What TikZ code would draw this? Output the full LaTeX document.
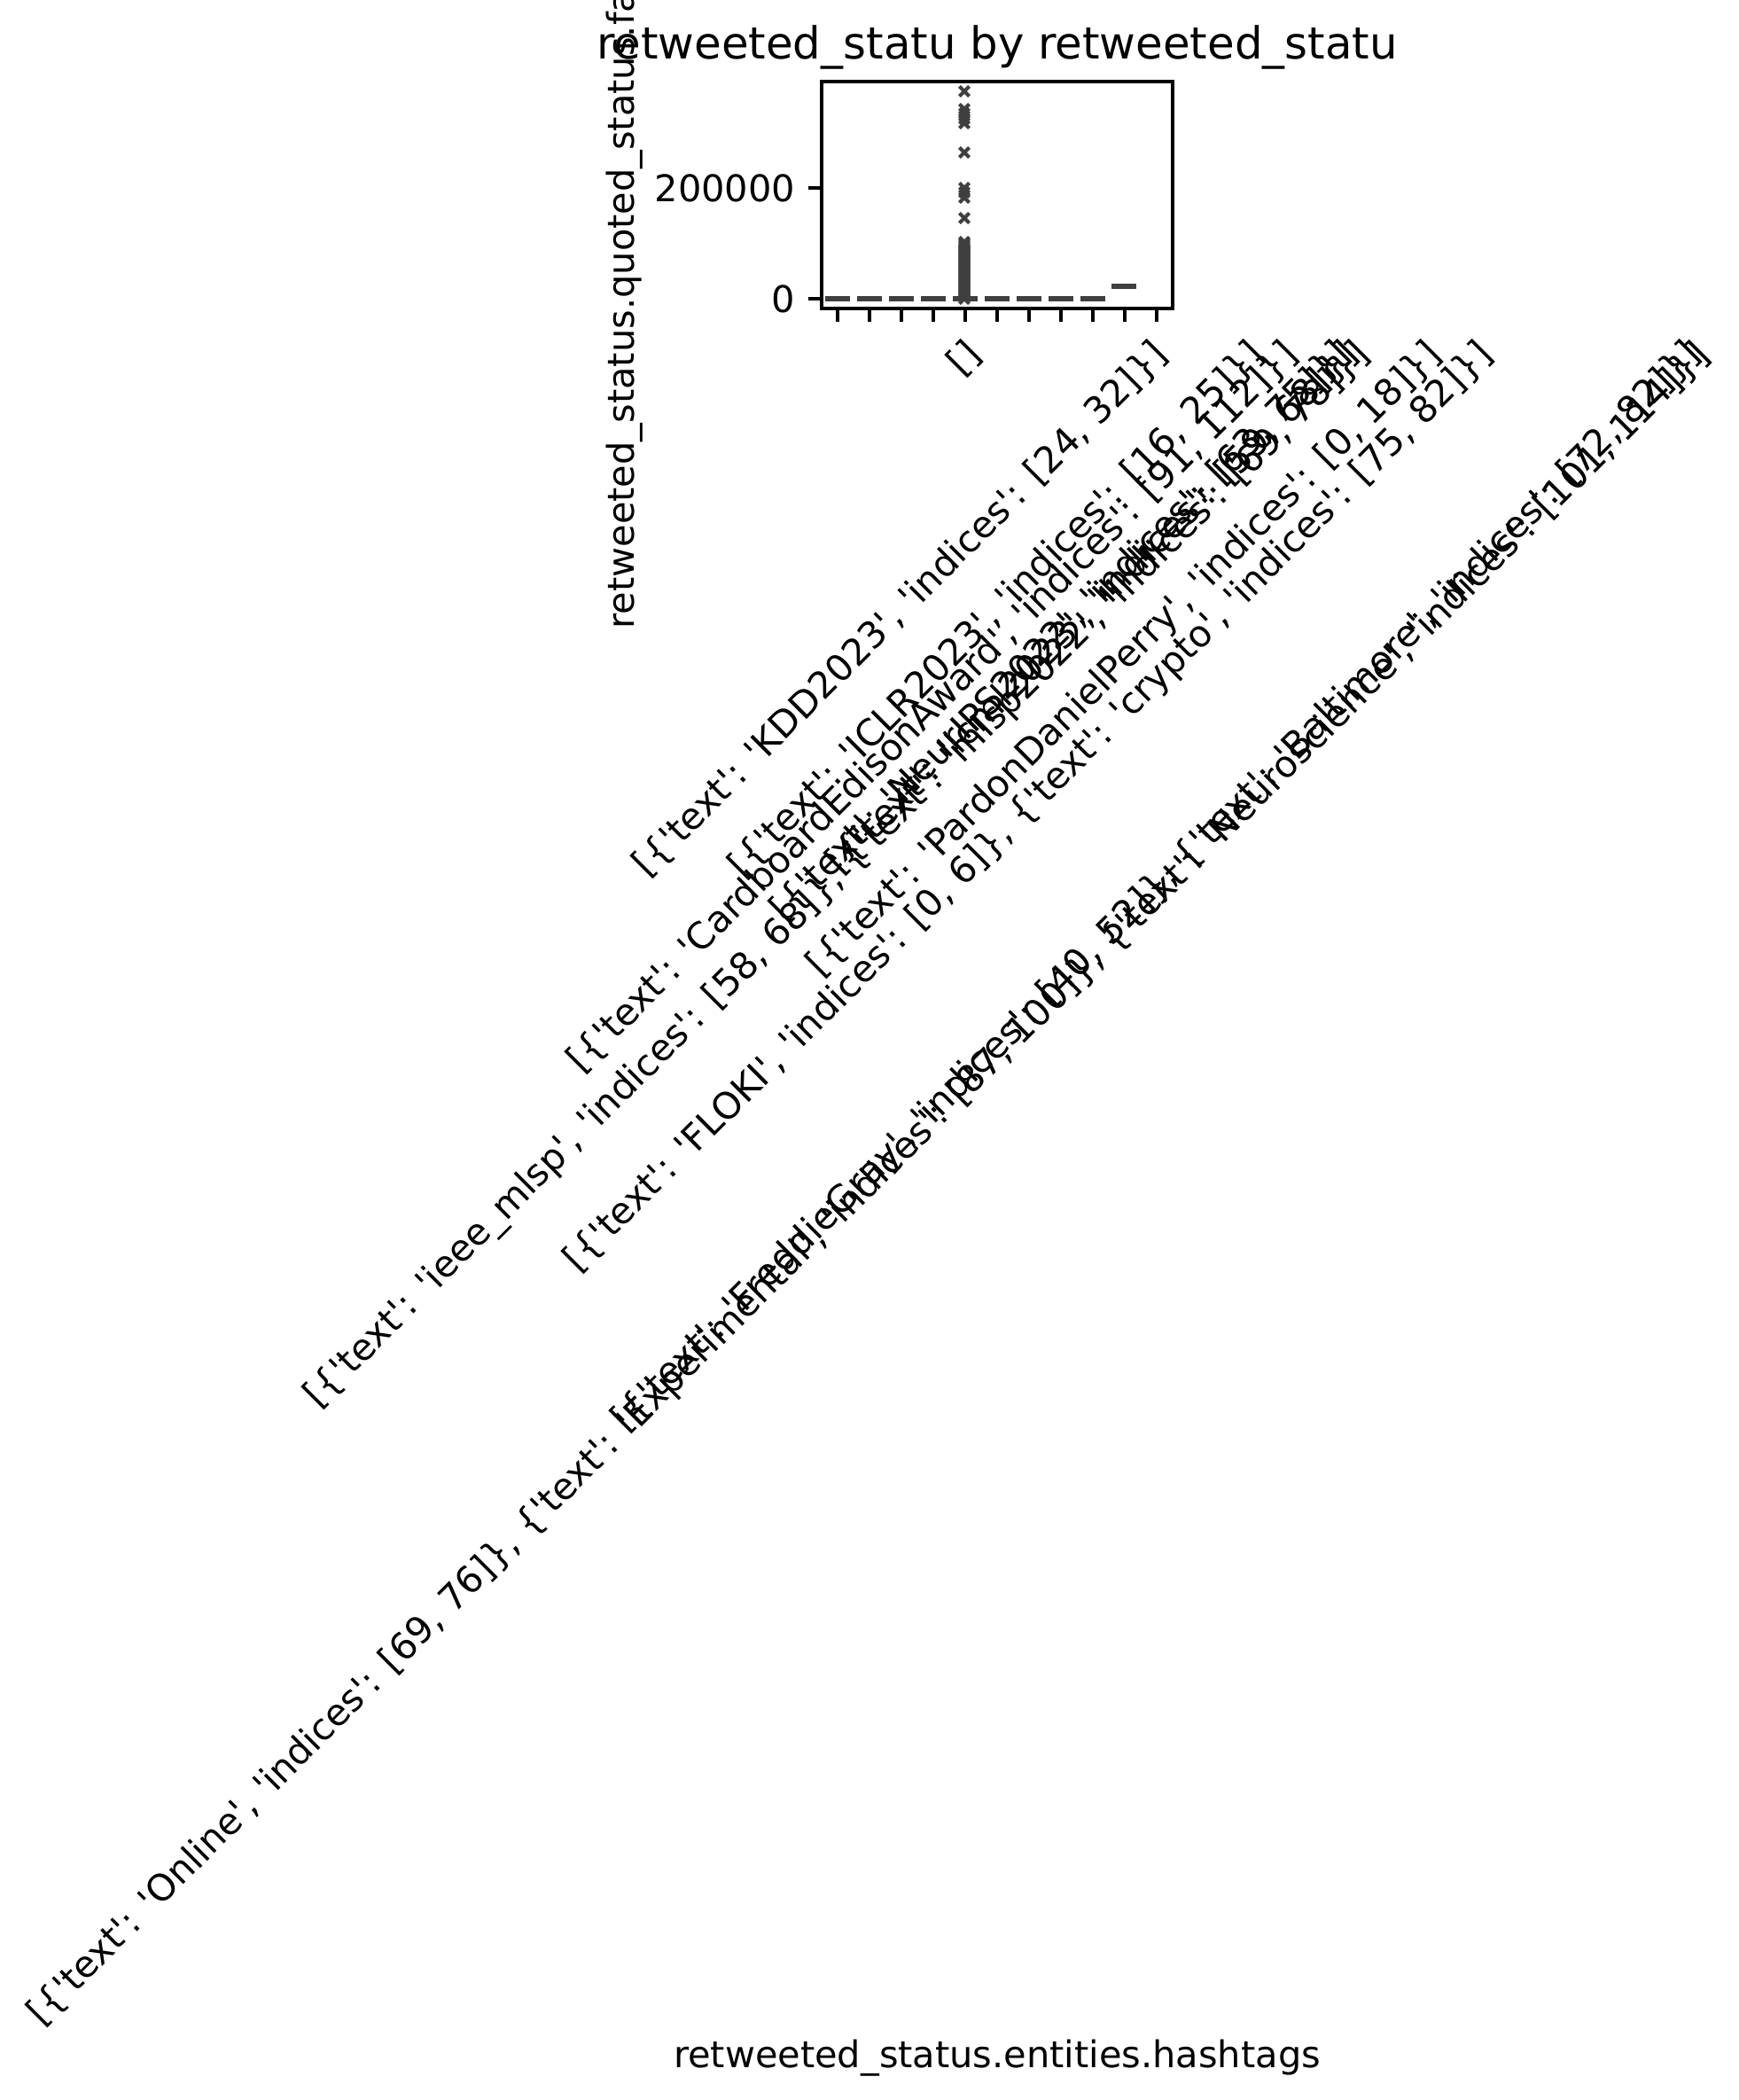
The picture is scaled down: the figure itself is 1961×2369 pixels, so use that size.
\documentclass[tikz,border=0pt]{standalone}
\usepackage{fontspec}
\setmainfont{DejaVu Sans}[Ligatures=TeXOff]
\usetikzlibrary{plotmarks}

\definecolor{boxgray}{RGB}{63,63,63}
\newcommand{\tickfont}{\fontsize{10}{12}\selectfont}
\newdimen\labwd
% category label: rotated 45 degrees and centred on its tick
\newcommand{\catlabel}[3]{%
  \pgfinterruptpicture\global\setbox1=\hbox{\tickfont #3}\endpgfinterruptpicture
  \labwd=\wd1\relax
  \pgfmathsetmacro{\laby}{380+(\labwd/0.2409+40.3)/2.828+8.1}%
  \node[catlab] (#1) at ({945+36*#2+8.1},\laby) {#3};%
}

\tikzset{
  catlab/.style={rotate=45, anchor=base, inner sep=0pt, font=\tickfont},
  axlab/.style={inner sep=0pt, font=\tickfont},
  tickline/.style={line width=0.8pt},
  flatbox/.style={draw=boxgray, line width=1.25pt},
  flier/.style={draw=boxgray, line width=1pt}
}

\begin{document}
\begin{tikzpicture}[x=0.2409pt, y=-0.2409pt]
    \useasboundingbox (0,0) rectangle (1961,2369);
    \clip (0,0) rectangle (1961,2369);

    % boxes (all flat)
    \foreach \i in {0,...,8}
        \draw[flatbox] ({945+36*\i-14},337) -- ({945+36*\i+14},337);
    \draw[flatbox] (1254,323) -- (1282,323);

    % outliers of the [] column
    \foreach \yy in {273,275,...,337}
        \draw[flier] plot[only marks, mark=x, mark size=1.9pt] coordinates {(1088,\yy)};
    \draw[flier] plot[only marks, mark=x, mark size=1.9pt] coordinates {(1088,103) (1088,123) (1088,128) (1088,134) (1088,139) (1088,172) (1088,212) (1088,217) (1088,223) (1088,246)};

    % axes
    \draw[tickline] (927,92) rectangle (1323,348);
    \foreach \i in {0,...,10}
        \draw[tickline] ({945+36*\i},348) -- ++(0,14.6);
    \draw[tickline] (927,337) -- ++(-14.6,0);
    \draw[tickline] (927,212) -- ++(-14.6,0);

    \node[axlab, anchor=east] (y0) at (898,337) {0};
    \node[axlab, anchor=east] (y1) at (898,212) {200000};

    \node[inner sep=0pt, font=\fontsize{12}{14}\selectfont, anchor=base] (title) at (1125,67) {retweeted\_statu by retweeted\_statu};
    \node[axlab, rotate=90, anchor=base] (ylab) at (715,220) {retweeted\_status.quoted\_status.favorite\_count};
    \node[axlab, anchor=base] (xlab) at (1125,2332) {retweeted\_status.entities.hashtags};

    % tick labels
    \catlabel{c0}{0}{[\{'text': 'ieee\_mlsp', 'indices': [58, 68]\}, \{'text': 'mlsp2022', 'indices': [69, 78]\}]}
    \catlabel{c1}{1}{[\{'text': 'Online', 'indices': [69, 76]\}, \{'text': 'Experimental', 'indices': [87, 100]\}, \{'text': 'Neuroscience', 'indices': [101, 114]\}]}
    \catlabel{c2}{2}{[\{'text': 'KDD2023', 'indices': [24, 32]\}]}
    \catlabel{c3}{3}{[\{'text': 'CardboardEdisonAward', 'indices': [91, 112]\}]}
    \catlabel{c4}{4}{[]}
    \catlabel{c5}{5}{[\{'text': 'ICLR2023', 'indices': [16, 25]\}]}
    \catlabel{c6}{6}{[\{'text': 'FLOKI', 'indices': [0, 6]\}, \{'text': 'crypto', 'indices': [75, 82]\}]}
    \catlabel{c7}{7}{[\{'text': 'NeurIPS2022', 'indices': [63, 75]\}]}
    \catlabel{c8}{8}{[\{'text': 'icml2023', 'indices': [59, 68]\}]}
    \catlabel{c9}{9}{[\{'text': 'PardonDanielPerry', 'indices': [0, 18]\}]}
    \catlabel{c10}{10}{[\{'text': 'FreddieGray', 'indices': [40, 52]\}, \{'text': 'Baltimore', 'indices': [72, 82]\}]}
\end{tikzpicture}
\end{document}
